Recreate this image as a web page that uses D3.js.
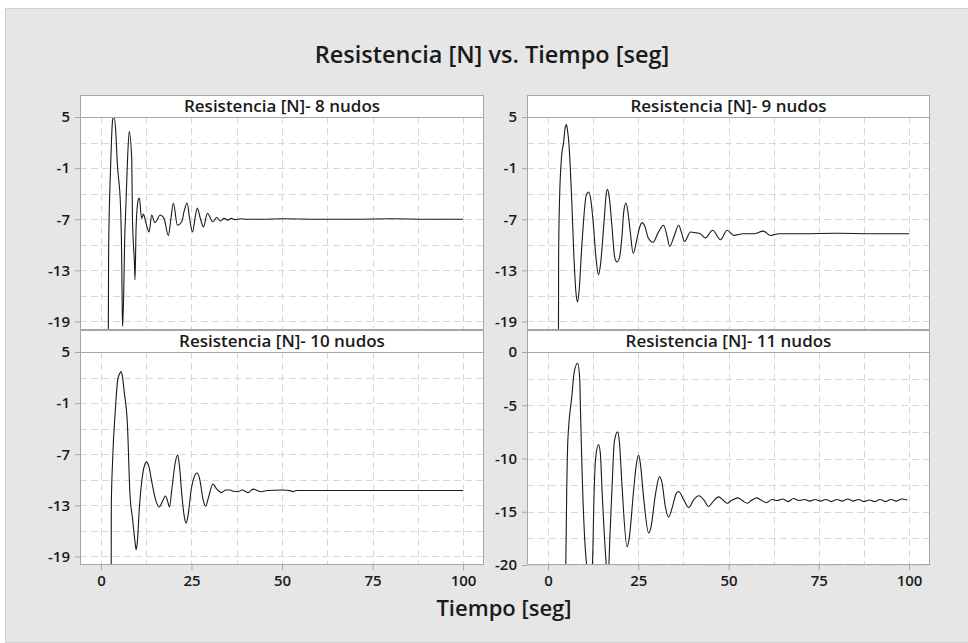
<!DOCTYPE html>
<html>
<head>
<meta charset="utf-8">
<script src="https://cdn.jsdelivr.net/npm/d3@7"></script>
<style>
  body { margin: 0; background: #fff; }
  svg { display: block; font-family: "Open Sans", "Noto Sans", sans-serif; }
</style>
</head>
<body>
<svg id="chart" width="968" height="643"></svg>
<script>
// --- DATA ---
const chartTitle = 'Resistencia [N] vs. Tiempo [seg]';
const xTitle = 'Tiempo [seg]';
const panelTitles = [
  'Resistencia [N]- 8 nudos',
  'Resistencia [N]- 9 nudos',
  'Resistencia [N]- 10 nudos',
  'Resistencia [N]- 11 nudos'
];
const xTicks = [0, 25, 50, 75, 100];
const yTicksTop = [5, -1, -7, -13, -19];
const yTicks11 = [0, -5, -10, -15, -20];

// 8 nudos
const t8 = [2.0, 2.1, 2.65, 2.9, 3.2, 3.6, 4.1, 4.5, 5.4, 5.7, 5.9, 6.0, 6.6, 6.9, 7.35, 7.8, 8.5, 8.7, 9.2, 9.4, 9.7,
  10.3, 10.6, 11.2, 11.7, 12.4, 13.3, 14.0, 14.9, 15.6, 16.3, 17.4, 18.6, 19.3, 20.0, 21.1, 22.3, 23.0, 23.8, 24.5,
  25.3, 26.0, 26.6, 27.5, 28.3, 29.4, 30.9, 32.0, 33.0, 34.0, 35.0, 36.0, 37.0, 38.5, 40, 45, 50, 60, 70, 80, 90, 100];
const r8 = [-24, -11, -0.9, 2.3, 4.6, 5.15, 3.1, -0.4, -5.5, -11, -18.4, -19.6, -8.6, -5.1, 0.2, 3.3, -0.05, -7.1, -11.8, -14.1, -7.9,
  -4.7, -4.5, -6.9, -6.4, -7.4, -8.5, -6.5, -7.4, -7.0, -6.5, -6.9, -8.9, -7.0, -5.1, -7.7, -7.3, -6.0, -5.1, -7.0,
  -8.5, -6.8, -5.7, -7.0, -7.9, -6.3, -7.3, -6.8, -7.2, -6.9, -7.1, -6.9, -7.05, -6.95, -7.0, -7.0, -6.95, -7.0, -7.0, -6.95, -7.0, -7.0];

// 9 nudos
const t9 = [2.9, 2.95, 3.2, 3.8, 4.3, 4.8, 5.1, 5.4, 5.8, 6.6, 7.2, 7.8, 8.2, 8.6, 9.4, 10.2, 10.6, 11.3, 11.9, 12.6, 13.3, 14.0,
  14.5, 15.6, 16.1, 16.5, 17.0, 17.7, 18.5, 19.1, 19.8, 20.5, 21.0, 21.6, 22.1, 22.8, 23.6, 24.7, 25.5, 26.1, 26.8, 27.8,
  29.1, 30.5, 32.0, 33.0, 33.7, 35.0, 36.2, 37.0, 37.8, 39.5, 41, 42.2, 43.6, 45.6, 47.8, 49.6, 51.5, 54, 57, 59.6, 61.7,
  64, 70, 80, 90, 100];
const r9 = [-24, -11.5, -4.9, 0.5, 1.9, 3.8, 4.1, 3.5, 1.9, -4.9, -11.5, -15.8, -16.7, -15.5, -10, -5.5, -4.2, -3.8, -4.8, -7.7, -11.5, -13.5,
  -12.5, -6.9, -4.2, -3.5, -4.5, -7.7, -11.5, -12.0, -11.5, -9.0, -6.1, -5.1, -6.0, -8.5, -11.0, -9.2, -7.8, -7.4, -7.8, -9.2,
  -9.7, -8.6, -7.7, -9.0, -10.2, -8.9, -7.7, -8.6, -9.6, -8.5, -8.6, -8.7, -9.2, -8.3, -9.4, -8.3, -8.9, -8.7, -8.7, -8.4, -8.9,
  -8.7, -8.7, -8.65, -8.7, -8.7];

// 10 nudos
const t10 = [2.8, 2.85, 3.2, 4.0, 4.6, 5.2, 5.5, 5.9, 6.4, 7.3, 8.0, 8.7, 9.4, 9.7, 10.0, 10.6, 11.5, 12.1, 12.6, 13.2, 14.1,
  15.2, 16.1, 16.9, 17.8, 18.4, 18.9, 19.6, 20.5, 21.2, 21.7, 22.4, 23.0, 23.5, 24.0, 24.9, 25.8, 26.5, 27.2, 28.2, 28.9,
  29.8, 30.9, 32.0, 33.2, 34.5, 35.5, 36.7, 37.8, 39.0, 40.6, 42.0, 44.3, 46, 50, 52.5, 53.0, 54, 60, 70, 80, 90, 100];
const r10 = [-24, -13.1, -7.8, -1.6, 1.7, 2.5, 2.7, 2.2, 0.35, -3.5, -11.7, -14.5, -17.3, -18.2, -17.5, -13.3, -9.4, -8.2, -7.9, -8.4, -10.4,
  -12.5, -13.2, -12.6, -11.9, -12.5, -13.2, -11.0, -8.0, -7.1, -8.5, -12.1, -14.3, -15.1, -14.3, -11.2, -9.6, -9.2, -9.8, -12.3, -13.1,
  -11.9, -10.5, -11.1, -11.5, -11.2, -11.2, -11.35, -11.4, -11.2, -11.5, -11.1, -11.4, -11.25, -11.2, -11.3, -11.4, -11.25, -11.25, -11.25, -11.25, -11.25, -11.25];

// 11 nudos
const t11 = [4.8, 5.2, 5.5, 6.6, 7.3, 8.2, 8.8, 9.0, 9.4, 10.4, 11.6, 12.3, 12.8, 13.2, 14.0, 14.5, 15.0, 15.9, 16.6, 17.2,
  17.7, 18.4, 19.3, 19.8, 20.5, 21.9, 22.5, 23.7, 24.5, 25.1, 25.6, 26.5, 27.9, 28.5, 29.8, 30.9, 31.6, 32.5, 33.4, 34.5,
  35.5, 36.2, 37.5, 39.0, 40.3, 41.8, 43.2, 44.5, 45.8, 47.3, 48.5, 49.6, 51, 52.6, 54, 55.2, 56.5, 57.8, 59, 60.5, 62,
  63.5, 65, 66.5, 68, 69.5, 71, 72.5, 74, 75.5, 77, 78.5, 80, 81.5, 83, 84.5, 86, 87.5, 89, 90.5, 92, 93.5, 95, 96.5, 98, 99.5];
const r11 = [-24, -13.1, -8.4, -4.2, -1.85, -1.06, -2.5, -5.3, -10.6, -18.75, -21.5, -20, -13, -10, -8.7, -9.5, -13.1, -18.75, -21.5, -17,
  -13.1, -8.4, -7.5, -8.5, -12.5, -18.3, -17.5, -13.1, -10.5, -9.7, -10.5, -13.7, -17.0, -16.5, -13.3, -11.7, -12.3, -14.5, -15.5, -14.5,
  -13.3, -13.1, -13.8, -14.6, -13.9, -13.5, -13.9, -14.5, -14.0, -13.6, -13.9, -14.2, -13.9, -13.7, -14.0, -14.2, -13.9, -13.7, -13.9, -14.15, -13.85,
  -13.95, -13.8, -14.05, -13.75, -13.95, -13.85, -14.0, -13.85, -14.0, -13.85, -14.05, -13.85, -14.0, -13.8, -14.0, -13.85, -14.05, -13.9, -14.05, -13.85, -14.05, -13.85, -14.0, -13.8, -13.9];

// --- LAYOUT ---
const cols = [[80, 484], [527, 930]];
const rows = [{ head: 95, top: 117, bottom: 330 }, { head: 330, top: 352, bottom: 565 }];
const panels = [
  { title: panelTitles[0], t: t8, r: r8, col: 0, row: 0, yDomain: [-20, 5], yTicks: yTicksTop, yStep: 3 },
  { title: panelTitles[1], t: t9, r: r9, col: 1, row: 0, yDomain: [-20, 5], yTicks: yTicksTop, yStep: 3 },
  { title: panelTitles[2], t: t10, r: r10, col: 0, row: 1, yDomain: [-20, 5], yTicks: yTicksTop, yStep: 3 },
  { title: panelTitles[3], t: t11, r: r11, col: 1, row: 1, yDomain: [-20, 0], yTicks: yTicks11, yStep: 2.5 }
];

const svg = d3.select('#chart');

svg.append('rect')
  .attr('x', 5.5).attr('y', 8.5).attr('width', 964).attr('height', 634)
  .attr('fill', '#e6e6e6').attr('stroke', '#d2d2d2');

svg.append('text')
  .attr('x', 492).attr('y', 63)
  .attr('text-anchor', 'middle')
  .attr('font-size', 23.5).attr('font-weight', 600).attr('fill', '#1a1a1a')
  .text(chartTitle);

svg.append('text')
  .attr('x', 504).attr('y', 616)
  .attr('text-anchor', 'middle')
  .attr('font-size', 22).attr('font-weight', 600).attr('fill', '#1a1a1a')
  .text(xTitle);

const gridX = d3.range(0, 100.01, 12.5);

panels.forEach((p, i) => {
  const [x0, x1] = cols[p.col];
  const { head, top, bottom } = rows[p.row];
  const x = d3.scaleLinear().domain([-5.8, 105.8]).range([x0, x1]);
  const y = d3.scaleLinear().domain(p.yDomain).range([bottom, top]);
  const g = svg.append('g');

  g.append('rect')
    .attr('x', x0).attr('y', top).attr('width', x1 - x0).attr('height', bottom - top)
    .attr('fill', '#fff');

  // grid
  const gridY = d3.range(p.yDomain[1], p.yDomain[0] - 0.01, -p.yStep);
  g.append('g').selectAll('line').data(gridX).join('line')
    .attr('x1', d => Math.round(x(d)) + 0.5).attr('x2', d => Math.round(x(d)) + 0.5)
    .attr('y1', top).attr('y2', bottom)
    .attr('stroke', '#d8d8d8').attr('stroke-dasharray', '7,4');
  g.append('g').selectAll('line').data(gridY).join('line')
    .attr('x1', x0).attr('x2', x1)
    .attr('y1', d => Math.round(y(d)) + 0.5).attr('y2', d => Math.round(y(d)) + 0.5)
    .attr('stroke', '#d8d8d8').attr('stroke-dasharray', '7,4');

  // curve
  const clipId = 'clip' + i;
  svg.append('clipPath').attr('id', clipId)
    .append('rect').attr('x', x0).attr('y', top).attr('width', x1 - x0).attr('height', bottom - top);
  const line = d3.line()
    .x((d, k) => x(p.t[k]))
    .y(d => y(d))
    .curve(d3.curveMonotoneX);
  g.append('path')
    .attr('clip-path', `url(#${clipId})`)
    .attr('d', line(p.r))
    .attr('fill', 'none').attr('stroke', '#1a1a1a').attr('stroke-width', 1.1);

  // frame
  g.append('rect')
    .attr('x', x0 + 0.5).attr('y', top + 0.5).attr('width', x1 - x0 - 1).attr('height', bottom - top - 1)
    .attr('fill', 'none').attr('stroke', '#a6a6a6');

  // header strip
  g.append('rect')
    .attr('x', x0 + 0.5).attr('y', head + 0.5).attr('width', x1 - x0 - 1).attr('height', top - head)
    .attr('fill', '#fff').attr('stroke', '#a6a6a6');
  g.append('text')
    .attr('x', (x0 + x1) / 2).attr('y', head + 17)
    .attr('text-anchor', 'middle')
    .attr('font-size', 17).attr('font-weight', 600).attr('fill', '#1a1a1a')
    .text(p.title);

  // y axis
  const ya = g.append('g')
    .attr('transform', `translate(${x0},0)`)
    .call(d3.axisLeft(y).tickValues(p.yTicks).tickSize(5).tickPadding(5).tickFormat(d => String(d)));
  ya.select('.domain').remove();
  ya.selectAll('.tick line').attr('stroke', '#a6a6a6');
  ya.selectAll('.tick text').attr('font-size', 15).attr('font-weight', 600).attr('fill', '#1a1a1a')
    .attr('font-family', '"Open Sans", sans-serif');

  // x axis (bottom row only)
  if (p.row === 1) {
    const xa = g.append('g')
      .attr('transform', `translate(0,${bottom})`)
      .call(d3.axisBottom(x).tickValues(xTicks).tickSize(5).tickPadding(5).tickFormat(d => String(d)));
    xa.select('.domain').remove();
    xa.selectAll('.tick line').attr('stroke', '#a6a6a6');
    xa.selectAll('.tick text').attr('font-size', 15).attr('font-weight', 600).attr('fill', '#1a1a1a')
      .attr('font-family', '"Open Sans", sans-serif');
  }
});
</script>
</body>
</html>
